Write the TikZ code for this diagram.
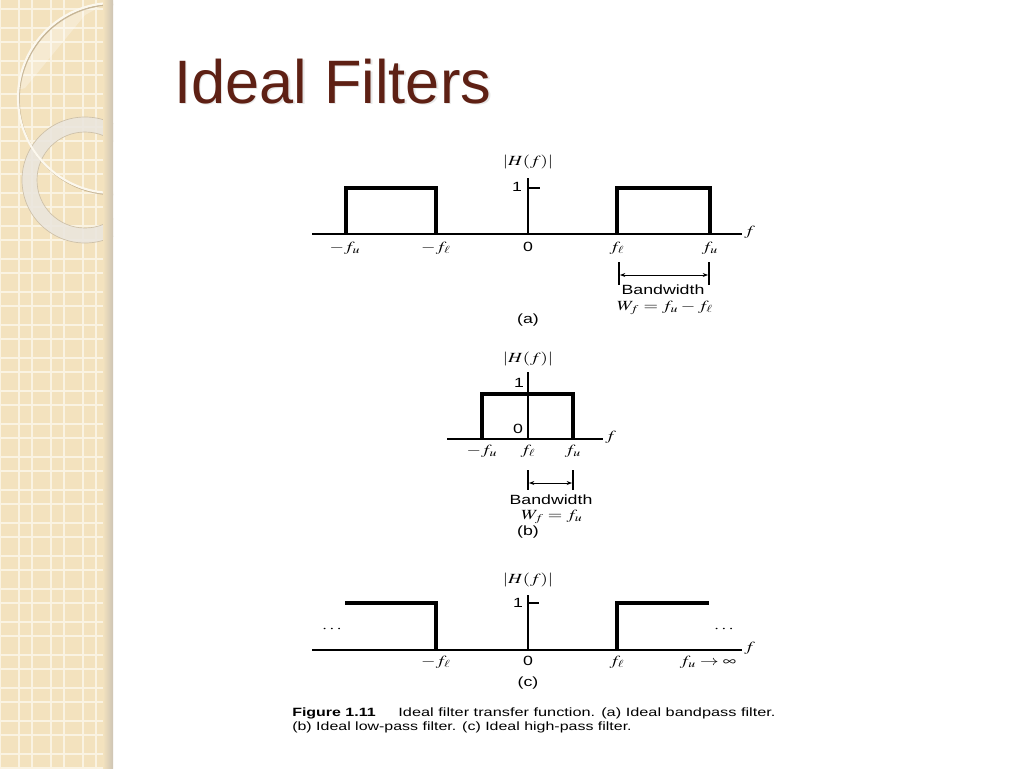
\documentclass[tikz,border=0pt]{standalone}
\usepackage{graphicx}
\usepackage{mathptmx}
\usepackage{fontspec}
\setmainfont{Liberation Sans}
\usetikzlibrary{arrows.meta}
\definecolor{band}{RGB}{243,226,190}
\definecolor{gridc}{RGB}{250,243,226}
\definecolor{bshadow}{RGB}{205,196,180}
\definecolor{titlec}{RGB}{94,32,20}
\definecolor{ringc}{RGB}{234,230,222}
\definecolor{ringedge}{RGB}{205,192,168}
\definecolor{circc}{RGB}{252,248,238}
\definecolor{circsh}{RGB}{180,160,125}
\newcommand\sx[1]{\scalebox{1.33}[1]{#1}}
\begin{document}
\begin{tikzpicture}[x=0.75pt,y=-0.75pt,
  ax/.style={line width=1pt},
  sig/.style={line width=2.5pt},
  lab/.style={font=\fontsize{10}{12}\selectfont, inner sep=0pt},
  mlab/.style={font=\fontsize{10.5}{12}\selectfont, inner sep=0pt},
  captxt/.style={font=\fontsize{9}{11}\selectfont, inner sep=0pt, anchor=base west},
  bwbar/.style={line width=0.8pt},
  bwarrow/.style={line width=0.6pt,{Stealth[length=4pt,width=3pt]}-{Stealth[length=4pt,width=3pt]}},
]
\useasboundingbox (0,0) rectangle (1024,768);
\fill[white] (0,0) rectangle (1024,768);
% ---- decorative band
\fill[band] (0,0) rectangle (113,768);
\foreach \x in {0,32,...,112} \draw[gridc, line width=0.8pt] (\x,0) -- (\x,768);
\foreach \x in {19,51,...,112} \draw[gridc, line width=0.8pt] (\x,0) -- (\x,768);
\foreach \y in {9,42,...,768} \draw[gridc, line width=0.8pt] (0,\y) -- (113,\y);
\foreach \y in {28,61,...,768} \draw[gridc, line width=0.8pt] (0,\y) -- (113,\y);
\begin{scope}
  \clip (0,0) rectangle (113,768);
  \begin{scope}
    \clip (113,98) circle[radius=95];
    \fill[white, opacity=0.3] (0,0) -- (0,95) -- (25,88) -- (85,15) -- (113,0) -- cycle;
  \end{scope}
  \fill[ringc, opacity=0.85, even odd rule] (85,180) circle[radius=63] (85,180) circle[radius=48];
  \draw[ringedge, line width=0.5pt] (85,180) circle[radius=63] (85,180) circle[radius=48];
  \draw[circsh, line width=1.2pt, opacity=0.7] (114,99.5) circle[radius=95];
  \draw[circc, line width=1.6pt] (113,98) circle[radius=95];
\end{scope}
\shade[left color=band, right color=bshadow] (103,0) rectangle (113,768);
% ---- title
\node[font=\fontsize{46}{50}\selectfont, text=black!30, opacity=0.3, anchor=base west, inner sep=0pt] (titlesh) at (175.5,104.5) {Ideal Filters};
\node[font=\fontsize{46}{50}\selectfont, text=titlec, anchor=base west, inner sep=0pt] (title) at (174,103) {Ideal Filters};
% ================= (a)
\coordinate (aL) at (312,234); \coordinate (aR) at (742,234);
\draw[ax] (aL) -- (aR);
\node[mlab, anchor=west] (af) at (744,232) {\sx{$f$}};
\coordinate (aO) at (528,234); \coordinate (aT) at (528,178);
\draw[ax] (aO) -- (aT);
\coordinate (at1) at (528,188); \coordinate (at2) at (540,188);
\draw[ax] (at1) -- (at2);
\node[lab] (a1) at (517,187) {\sx{1}};
\node[mlab] (aH) at (528,162) {\sx{$|H(f)|$}};
\draw[sig] (346,234) -- (346,188) -- (436,188) -- (436,234);
\draw[sig] (617,234) -- (617,188) -- (710,188) -- (710,234);
\node[mlab] (amfu) at (345,248) {\sx{$-f_u$}};
\node[mlab] (amfl) at (436,248) {\sx{$-f_\ell$}};
\node[lab]  (a0)   at (528,247) {\sx{0}};
\node[mlab] (afl)  at (617,248) {\sx{$f_\ell$}};
\node[mlab] (afu)  at (710,248) {\sx{$f_u$}};
\coordinate (ab1t) at (619,262); \coordinate (ab1b) at (619,285);
\coordinate (ab2t) at (709,262); \coordinate (ab2b) at (709,285);
\draw[bwbar] (ab1t) -- (ab1b);
\draw[bwbar] (ab2t) -- (ab2b);
\coordinate (aa1) at (620,275); \coordinate (aa2) at (708,275);
\draw[bwarrow] (aa1) -- (aa2);
\node[lab] (abw) at (663,289.5) {\sx{Bandwidth}};
\node[mlab] (awf) at (665,307.5) {\sx{$W_f=f_u-f_\ell$}};
\node[lab] (acap) at (528,320) {\sx{(a)}};
% ================= (b)
\coordinate (bL) at (447,439); \coordinate (bR) at (603,439);
\draw[ax] (bL) -- (bR);
\node[mlab, anchor=west] (bf) at (605,437) {\sx{$f$}};
\coordinate (bO) at (528,439); \coordinate (bT) at (528,372);
\draw[ax] (bO) -- (bT);
\node[mlab] (bH) at (528,359) {\sx{$|H(f)|$}};
\node[lab] (b1) at (519,383) {\sx{1}};
\node[lab] (b0) at (518,429) {\sx{0}};
\draw[sig] (482,439) -- (482,394) -- (573,394) -- (573,439);
\node[mlab] (bmfu) at (482,451) {\sx{$-f_u$}};
\node[mlab] (bfl)  at (528,451) {\sx{$f_\ell$}};
\node[mlab] (bfu)  at (573,451) {\sx{$f_u$}};
\coordinate (bb1t) at (528,470); \coordinate (bb1b) at (528,490);
\coordinate (bb2t) at (573,470); \coordinate (bb2b) at (573,490);
\draw[bwbar] (bb1t) -- (bb1b);
\draw[bwbar] (bb2t) -- (bb2b);
\coordinate (ba1) at (529,483); \coordinate (ba2) at (572,483);
\draw[bwarrow] (ba1) -- (ba2);
\node[lab] (bbw) at (551,500) {\sx{Bandwidth}};
\node[mlab] (bwf) at (552,516.5) {\sx{$W_f=f_u$}};
\node[lab] (bcap) at (528,532) {\sx{(b)}};
% ================= (c)
\coordinate (cL) at (312,650); \coordinate (cR) at (742,650);
\draw[ax] (cL) -- (cR);
\node[mlab, anchor=west] (cf) at (744,648) {\sx{$f$}};
\coordinate (cO) at (528,650); \coordinate (cT) at (528,595);
\draw[ax] (cO) -- (cT);
\coordinate (ct1) at (528,603); \coordinate (ct2) at (539,603);
\draw[ax] (ct1) -- (ct2);
\node[lab] (c1) at (518,603) {\sx{1}};
\node[mlab] (cH) at (528,580) {\sx{$|H(f)|$}};
\draw[sig] (345,603) -- (436,603) -- (436,650);
\draw[sig] (617,650) -- (617,603) -- (709,603);
\node[mlab] (cdl) at (332,629) {\sx{$\cdots$}};
\node[mlab] (cdr) at (724,629) {\sx{$\cdots$}};
\node[mlab] (cmfl) at (436,662) {\sx{$-f_\ell$}};
\node[lab]  (c0)   at (528,661) {\sx{0}};
\node[mlab] (cfl)  at (617,662) {\sx{$f_\ell$}};
\node[mlab] (cfu)  at (708,662) {\sx{$f_u\to\infty$}};
\node[lab] (ccap) at (528,683) {\sx{(c)}};
% ================= caption
\node[captxt] (cap1) at (292,716) {\sx{\textbf{Figure 1.11}}\hspace{1.9em}\scalebox{1.36}[1]{Ideal filter transfer function. (a) Ideal bandpass filter.}};
\node[captxt] (cap2) at (292,730) {\sx{(b) Ideal low-pass filter. (c) Ideal high-pass filter.}};
\end{tikzpicture}
\end{document}
